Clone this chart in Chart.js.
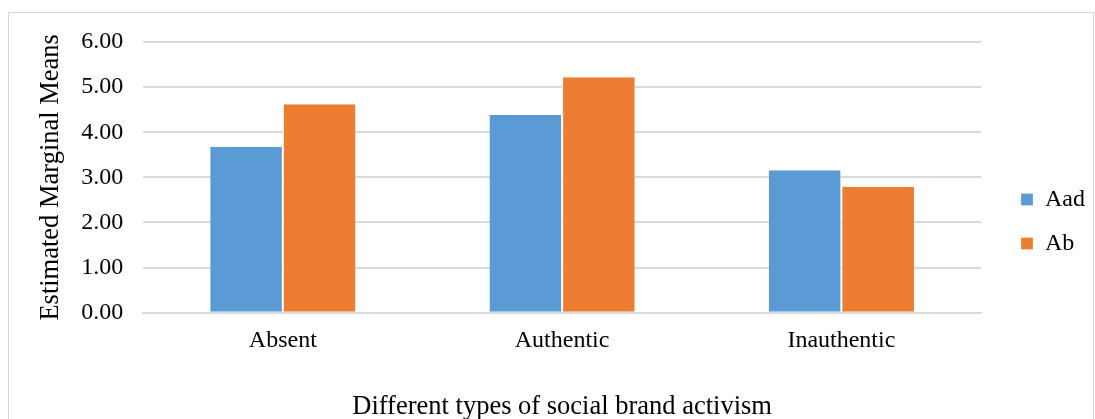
<!DOCTYPE html>
<html>
<head>
<meta charset="utf-8">
<script src="https://cdn.jsdelivr.net/npm/chart.js@4"></script>
<style>
  body { margin: 0; background: #fff; overflow: hidden; }
  #wrap {
    position: absolute; left: 8px; top: 12px;
    width: 1084px; height: 410px;
    border: 1px solid #d9d9d9; border-bottom: none;
  }
  canvas { display: block; }
</style>
</head>
<body>
<div id="wrap"><canvas id="chart" width="1086" height="407"></canvas></div>
<script>
const categories = ['Absent', 'Authentic', 'Inauthentic'];
const aadValues = [3.68, 4.38, 3.16];
const abValues = [4.62, 5.22, 2.79];
const yTicks = [0, 1, 2, 3, 4, 5, 6];

const serif = '"Liberation Serif", "Times New Roman", serif';

const ctx = document.getElementById('chart').getContext('2d');
new Chart(ctx, {
  type: 'bar',
  data: {
    labels: categories,
    datasets: [
      { label: 'Aad', data: aadValues, backgroundColor: '#5b9bd5', borderColor: '#ffffff', borderWidth: { right: 1 } },
      { label: 'Ab', data: abValues, backgroundColor: '#ed7d31', borderColor: '#ffffff', borderWidth: { left: 1 } }
    ]
  },
  options: {
    responsive: false,
    animation: false,
    layout: { padding: { top: 10, right: 0, left: 31, bottom: 0 } },
    datasets: { bar: { categoryPercentage: 0.52, barPercentage: 1 } },
    plugins: {
      tooltip: { enabled: false },
      legend: {
        position: 'right',
        labels: {
          color: '#000',
          font: { family: serif, size: 24 },
          boxWidth: 12, boxHeight: 12,
          padding: 20
        }
      }
    },
    scales: {
      x: {
        grid: { display: false, drawTicks: false },
        border: { color: '#d9d9d9', width: 2 },
        ticks: { color: '#000', font: { family: serif, size: 24 }, padding: 14 },
        title: {
          display: true, text: 'Different types of social brand activism',
          color: '#000', font: { family: serif, size: 26.5, lineHeight: 1 }, padding: { top: 24, bottom: 0 }
        }
      },
      y: {
        min: 0, max: 6,
        afterBuildTicks: axis => { axis.ticks = yTicks.map(v => ({ value: v })); },
        grid: { color: '#d9d9d9', lineWidth: 2, drawTicks: false },
        border: { display: false },
        ticks: {
          color: '#000', font: { family: serif, size: 24, lineHeight: 0.75 }, padding: 20,
          callback: v => v.toFixed(2)
        },
        title: {
          display: true, text: 'Estimated Marginal Means',
          color: '#000', font: { family: serif, size: 26.5, lineHeight: 0.8 }, padding: 0
        }
      },
      // empty right-hand axis: only keeps a gap between plot and legend
      gap: {
        type: 'linear', position: 'right', display: true,
        grid: { display: false }, border: { display: false },
        ticks: { display: false },
        afterFit: axis => { axis.width = 20; }
      }
    }
  }
});
</script>
</body>
</html>
